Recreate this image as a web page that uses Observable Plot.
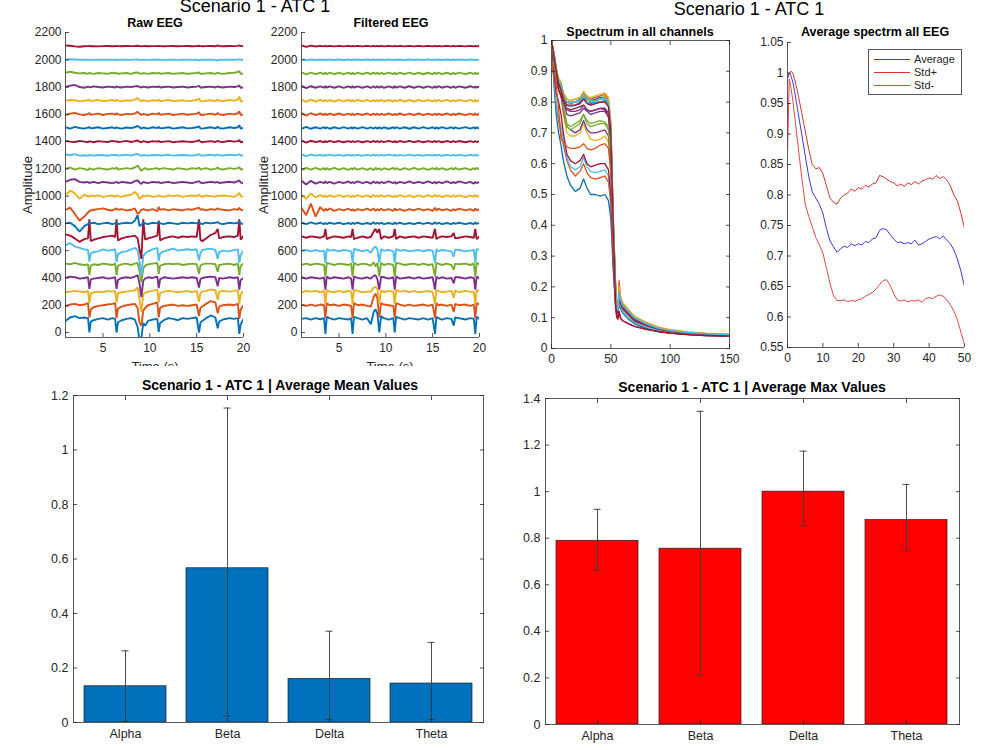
<!DOCTYPE html>
<html><head><meta charset="utf-8">
<script src="https://cdn.jsdelivr.net/npm/d3@7"></script>
<script src="https://cdn.jsdelivr.net/npm/@observablehq/plot@0.6"></script>
<style>
body{margin:0;background:#fff;font-family:"Liberation Sans",Arial,Helvetica,sans-serif;}
#fig{position:relative;width:1000px;height:750px;overflow:hidden;background:#fff;}
.t{position:absolute;white-space:nowrap;color:#000;line-height:1;transform:translate(-50%,-50%);}
</style></head><body><div id="fig"></div>
<script>
// ---------------- DATA ----------------
const channelColors = ["#0072BD","#D95319","#EDB120","#7E2F8E","#77AC30","#4DBEEE","#A2142F"];
const eegOffsets = [100,200,300,400,500,600,700,800,900,1000,1100,1200,1300,1400,1500,1600,1700,1800,1900,2000,2100];
const eegTime = [1.0,1.5,2.0,2.5,3.0,3.4,3.55,3.7,4.0,4.5, 5.0,5.5,6.0,6.3,6.45,6.6,7.0,7.5,8.0,8.4, 8.7,8.9,9.1,9.3,9.5,9.8,10.3,10.8,10.95,11.1, 11.5,12.0,12.5,13.0,13.5,14.0,14.5,15.0,15.25,15.4, 15.6,16.0,16.5,17.0,17.25,17.4,17.8,18.5,19.0,19.4, 19.55,19.7,20.0];
const eegXTicks = [5,10,15,20];
const eegYTicks = [0,200,400,600,800,1000,1200,1400,1600,1800,2000,2200];
const eegXDomain = [1,20];
const eegYDomain = [-36.7,2200];

// raw EEG: deviation of each channel from its offset (channel 100 first)
const rawEEG = [
 [-15,10,20,5,10,5,-100,-20,-10,0, 5,-5,5,0,-100,-25,-10,0,5,-5, -60,-160,-140,-30,-50,-15,-5,0,-95,-30, -10,5,0,-10,5,0,5,10,-100,-30, -15,5,25,10,-70,-20,-5,5,0,5, -110,-40,0],
 [-10,5,10,0,5,15,-90,-30,-15,-5, 0,5,10,15,-95,-25,-10,0,5,10, -20,-130,-150,-40,-20,0,10,20,-90,-20, -5,0,5,-5,0,-5,0,5,-80,-20, -10,10,30,20,-60,-10,0,5,0,10, -100,-30,0],
 [-5,0,5,0,-5,5,-85,-15,-5,0, -5,5,0,5,-80,-10,-5,0,5,10, 30,-60,-150,-20,-10,0,5,15,-80,-10, 0,5,0,-5,0,5,-5,5,-75,-10, 0,5,15,10,-60,0,5,0,5,10, -90,-20,5],
 [0,10,5,-5,0,5,-80,-10,-5,0, 5,-5,0,5,-80,-15,0,5,0,10, 20,-40,-140,-20,-5,5,0,10,-75,-10, 5,0,-5,0,5,0,5,0,-70,-10, 0,5,10,5,-60,0,-5,5,0,5, -85,-15,0],
 [5,0,10,0,-5,0,-80,-10,0,-5, 5,0,-5,5,-80,-10,0,5,-5,5, 10,-50,-130,-30,-10,0,5,10,-70,-10, 0,5,0,5,-5,0,5,0,-70,-10, 0,5,5,0,-55,-5,0,5,-5,5, -80,-10,5],
 [40,55,30,20,10,5,-80,-20,-10,-5, 10,0,5,10,-85,-25,-10,-5,10,20, 5,-80,-180,-40,-20,-5,10,20,-75,-20, -5,5,15,0,5,10,5,10,-70,-20, 5,10,15,5,-60,-10,0,-5,5,10, -90,-30,0],
 [20,10,-10,-35,-15,-10,130,-30,-20,-10, 0,5,10,0,130,-25,-10,0,5,10, -10,-90,-160,130,-20,-10,0,10,120,-25, -10,0,5,-5,5,0,5,0,130,-20, -30,-10,15,30,60,-10,0,5,0,10, 130,-20,10],
 [0,5,-20,-60,-20,-5,5,0,5,-5, 0,5,-5,0,5,-5,0,5,0,20, 60,-20,-10,5,0,-5,5,0,10,0, -5,5,0,-5,5,0,5,0,10,0, -5,5,0,5,10,0,-5,5,0,5, 15,0,-5],
 [0,15,-30,-80,-50,-20,-10,-5,0,5, 10,0,-5,5,10,0,5,-5,0,10, -30,-20,0,5,0,-5,5,-10,20,0, 5,-5,5,0,-5,5,0,10,15,0, 5,-5,5,0,10,5,0,-5,5,0, 15,0,-5],
 [10,40,20,-20,10,0,-5,5,0,5, -5,0,5,-5,5,0,-5,5,10,30, 10,-20,-10,5,0,5,-5,0,5,0, -5,5,0,5,-5,0,5,0,10,0, -5,5,0,-5,5,0,5,0,-5,10, 25,0,-5],
 [5,20,25,5,0,5,-5,0,5,-5, 5,0,-5,0,5,-5,5,0,-5,10, 15,0,-10,5,0,-5,5,0,5,-5, 0,5,-5,0,5,0,-5,5,10,0, -5,0,5,0,5,-5,0,5,0,10, 15,0,-5],
 [0,10,-5,5,0,-10,5,0,-5,5, 0,-5,5,0,10,-5,0,5,0,10, 25,5,-15,0,5,-5,0,5,-5,0, 5,0,-5,5,0,-5,5,0,10,-5, 0,5,-5,0,10,0,-5,5,0,5, 15,-5,0],
 [5,0,8,-3,0,-5,3,0,-3,2, 0,-4,3,0,5,-3,0,3,-2,5, 10,0,-5,3,0,-3,2,0,3,-2, 0,3,-3,0,2,0,-3,2,8,0, -3,0,3,-2,5,0,-2,3,0,2, 8,-3,0],
 [5,0,-3,5,0,-5,3,0,-5,3, 0,-3,5,0,3,-3,0,5,-3,3, 8,0,-5,3,0,-5,3,0,5,-3, 0,3,-5,0,3,0,-3,3,10,0, -5,0,3,-3,5,0,-3,5,0,3, 12,-5,0],
 [5,-5,8,0,-5,3,5,-3,0,5, -5,0,5,-3,5,0,-5,3,0,5, 15,5,-5,3,0,-5,5,0,8,-3, 0,5,-5,0,5,-3,0,5,12,-3, -5,0,5,-3,8,0,-5,5,0,5, 20,-5,0],
 [-5,5,10,0,-5,3,8,-3,0,5, -5,3,5,-3,8,0,-5,3,0,5, 18,5,-5,3,0,-5,5,0,10,-3, 0,5,-5,0,5,-3,0,5,15,-3, -5,0,5,-3,10,0,-5,5,0,8, 22,-5,0],
 [0,5,3,-5,0,3,8,-3,0,5, -3,0,5,-3,8,0,-5,3,0,8, 18,5,-5,3,0,-5,3,0,8,-3, 0,5,-3,0,3,-3,0,5,15,-3, -5,0,3,-3,8,0,-3,5,0,8, 30,-5,-5],
 [0,10,15,0,-5,3,0,-3,5,0, -3,3,0,-3,5,0,-3,3,0,5, 8,0,-3,3,0,-3,3,0,5,-3, 0,3,-3,0,3,-3,0,3,8,-3, -3,0,3,-3,5,0,-3,3,0,5, 12,-5,-3],
 [5,12,5,0,3,-3,5,0,-3,3, 0,-3,5,0,3,-3,0,3,-3,5, 8,0,-3,3,0,-3,3,0,5,-3, 0,3,-3,0,3,-3,0,3,8,-3, -3,0,3,-3,5,0,-3,3,5,10, 18,-5,0],
 [0,4,2,0,1,-1,0,1,-1,0, 1,0,-1,1,0,-1,1,0,-1,1, 2,0,-1,1,0,-1,1,0,2,0, -1,1,0,-1,1,0,-1,0,-5,0, -1,0,1,-1,-5,0,-1,1,0,1, 3,0,0],
 [5,3,-2,-4,-1,0,1,-1,0,-2, 0,1,-1,0,2,0,-1,1,0,1, 3,0,-1,0,1,-1,0,1,2,0, -1,0,1,-1,0,1,-1,0,3,0, -1,0,1,-1,5,0,-1,1,0,2, 5,0,1]
];

// filtered EEG: deviation of each channel from its offset (channel 100 first)
const filteredEEG = [
 [0,5,-5,5,-3,5,-110,15,5,-5, 5,0,-5,5,-110,15,5,-5,5,-40, 50,70,40,-100,20,5,-5,5,-100,15, 5,-5,5,0,-5,5,-5,5,-110,15, 5,-5,5,0,-50,10,5,-5,5,0, -110,15,0],
 [5,-5,5,-5,5,0,-95,15,0,5, -5,5,0,-5,-95,15,0,5,-5,-10, 60,85,50,-90,15,5,0,-5,-95,15, 5,-5,5,-5,0,5,-5,5,-95,15, 0,5,-5,5,-50,10,0,5,-5,5, -95,15,5],
 [-5,5,0,5,-5,5,-90,12,0,-5, 5,-5,5,0,-90,12,5,-5,0,0, 30,35,20,-90,10,-5,5,0,-90,12, 0,5,-5,5,-5,0,5,-5,-90,12, 5,-5,0,5,-45,8,-5,5,0,-5, -90,12,0],
 [5,-5,5,0,-5,5,-85,10,-5,5, 0,-5,5,-5,-85,10,0,-5,5,-5, 15,20,-10,-85,10,5,-5,5,-85,10, -5,0,5,-5,5,-5,0,5,-85,10, -5,5,-5,0,-40,5,5,-5,5,0, -85,10,-5],
 [-5,5,-5,5,0,-5,-90,10,5,-5, 5,0,-5,5,-90,10,-5,5,0,-10, 15,-15,10,-90,10,-5,5,-5,-90,10, 5,-5,0,5,-5,5,-5,0,-90,10, 5,-5,5,-5,-40,5,0,5,-5,5, -90,10,0],
 [0,5,-5,5,-5,0,-90,12,0,5, -5,5,0,-5,-90,12,5,-5,5,-15, 20,30,10,-90,12,0,5,-5,-90,12, 0,5,-5,0,5,-5,5,0,-90,12, -5,5,0,-5,-45,8,5,-5,0,5, -90,12,5],
 [5,-5,5,0,-5,5,60,-15,-5,5, 0,-5,5,0,60,-15,-5,5,-5,0, 40,60,30,60,-15,5,-5,5,60,-15, 5,-5,0,5,-5,5,0,-5,60,-15, -5,5,0,5,30,-10,-5,5,0,-5, 60,-15,5],
 [5,-5,8,-3,5,-5,3,-5,5,-3, 5,-5,3,-5,5,-3,5,-5,3,-5, 8,-5,5,-3,5,-5,3,-5,8,-3, 5,-5,3,-5,5,-3,5,-5,8,-3, 5,-5,3,-5,5,-3,5,-5,3,-5, 8,-3,5],
 [15,-40,45,-50,20,-10,8,-5,10,-8, 5,-5,8,-5,5,-8,5,-5,8,-5, 10,-8,5,-5,8,-5,5,-8,10,-5, 5,-8,5,-5,8,-5,5,-8,15,-5, 8,-5,5,-8,5,-5,8,-5,5,-8, 10,-5,5],
 [10,-20,20,-10,8,-5,5,-8,5,-5, 8,-5,5,-8,5,-5,8,-5,5,-8, 10,-5,5,-5,8,-5,5,-8,5,-5, 8,-5,5,-8,5,-5,8,-5,10,-5, 5,-8,5,-5,8,-5,5,-8,5,-5, 10,-5,5],
 [12,-15,12,-8,5,-5,8,-5,5,-8, 5,-5,8,-5,5,-5,8,-5,5,-8, 8,-5,5,-8,5,-5,8,-5,5,-8, 5,-5,8,-5,5,-5,8,-5,5,-8, 5,-5,8,-5,5,-5,8,-5,5,-8, 5,-5,5],
 [-8,8,-5,8,-5,5,-8,5,-5,8, -5,5,-8,5,-5,8,-5,5,-8,5, -10,8,-5,5,-8,5,-5,8,-5,5, -8,5,-5,8,-5,5,-8,5,-5,8, -5,5,-8,5,-5,8,-5,5,-8,5, -5,8,-5],
 [6,-6,5,-3,3,-4,3,-3,4,-3, 3,-4,3,-3,4,-3,3,-4,3,-3, 4,-3,3,-4,3,-3,4,-3,3,-4, 3,-3,4,-3,3,-4,3,-3,4,-3, 3,-4,3,-3,4,-3,3,-4,3,-3, 4,-3,3],
 [8,-8,6,-4,4,-5,4,-4,5,-4, 4,-5,4,-4,5,-4,4,-5,4,-4, 5,-4,4,-5,4,-4,5,-4,4,-5, 4,-4,5,-4,4,-5,4,-4,5,-4, 4,-5,4,-4,5,-4,4,-5,4,-4, 5,-4,4],
 [-6,8,-6,5,-5,6,-5,5,-6,5, -5,6,-5,5,-6,5,-5,6,-5,5, -6,5,-5,6,-5,5,-6,5,-5,6, -5,5,-6,5,-5,6,-5,5,-6,5, -5,6,-5,5,-6,5,-5,6,-5,5, -6,5,-5],
 [10,-10,8,-6,6,-5,6,-6,5,-5, 6,-6,5,-5,6,-6,5,-5,6,-6, 5,-5,6,-6,5,-5,6,-6,5,-5, 6,-6,5,-5,6,-6,5,-5,6,-6, 5,-5,6,-6,5,-5,6,-6,5,-5, 6,-6,5],
 [8,-8,7,-6,6,-5,6,-6,5,-6, 6,-5,6,-6,5,-6,6,-5,6,-6, 5,-6,6,-5,6,-6,5,-6,6,-5, 6,-6,5,-6,6,-5,6,-6,5,-6, 6,-5,6,-6,5,-6,6,-5,6,-6, 5,-6,6],
 [8,-8,6,-5,5,-5,6,-5,5,-5, 5,-6,5,-5,6,-5,5,-5,5,-6, 6,-5,5,-5,5,-6,5,-5,6,-5, 5,-5,6,-5,5,-5,5,-6,5,-5, 6,-5,5,-5,5,-6,5,-5,6,-5, 5,-5,5],
 [8,-7,6,-5,5,-6,5,-5,6,-5, 5,-5,6,-5,5,-6,5,-5,6,-5, 6,-5,5,-6,5,-5,6,-5,5,-6, 5,-5,6,-5,5,-6,5,-5,6,-5, 6,-5,5,-6,5,-5,6,-5,5,-6, 6,-5,5],
 [3,-3,2,-2,2,-2,2,-2,2,-2, 2,-2,2,-2,2,-2,2,-2,2,-2, 2,-2,2,-2,2,-2,2,-2,2,-2, 2,-2,2,-2,2,-2,2,-2,2,-2, 2,-2,2,-2,2,-2,2,-2,2,-2, 2,-2,2],
 [5,-6,4,-3,2,-2,2,-2,2,-2, 2,-2,2,-2,2,-2,2,-2,2,-2, 2,-2,2,-2,2,-2,2,-2,2,-2, 2,-2,2,-2,2,-2,2,-2,2,-2, 2,-2,2,-2,2,-2,2,-2,2,-2, 2,-2,2]
];

// spectrum of all channels (normalised), channel 1 first
const specFreq = [0,2,4,6,8,10,13,16,20,24,27,30,33,37,41,45,48,50,52,54,55,56,57,58,60,65,70,80,90,100,115,130,150];
const specXTicks = [0,50,100,150];
const specYTicks = [0,0.1,0.2,0.3,0.4,0.5,0.6,0.7,0.8,0.9,1];
const spectra = [
 [1,0.86,0.76,0.70,0.66,0.61,0.56,0.53,0.51,0.52,0.55,0.52,0.50,0.50,0.495,0.50,0.48,0.42,0.26,0.14,0.11,0.105,0.15,0.13,0.115,0.095,0.08,0.065,0.055,0.05,0.045,0.042,0.04],
 [1,0.88,0.79,0.74,0.70,0.66,0.61,0.58,0.56,0.575,0.60,0.57,0.555,0.55,0.555,0.56,0.54,0.47,0.28,0.15,0.12,0.11,0.16,0.14,0.12,0.10,0.085,0.07,0.06,0.053,0.048,0.044,0.042],
 [1,0.93,0.86,0.84,0.82,0.76,0.70,0.69,0.69,0.70,0.73,0.70,0.68,0.675,0.68,0.69,0.67,0.58,0.33,0.17,0.12,0.115,0.17,0.15,0.13,0.11,0.09,0.075,0.063,0.056,0.05,0.046,0.043],
 [1,0.94,0.87,0.84,0.82,0.77,0.72,0.71,0.70,0.71,0.74,0.71,0.70,0.70,0.705,0.71,0.69,0.60,0.34,0.17,0.12,0.115,0.17,0.15,0.13,0.11,0.09,0.074,0.062,0.055,0.05,0.046,0.043],
 [1,0.94,0.88,0.85,0.83,0.78,0.72,0.71,0.72,0.73,0.76,0.73,0.72,0.725,0.73,0.73,0.71,0.62,0.35,0.18,0.12,0.115,0.17,0.15,0.13,0.11,0.09,0.075,0.063,0.056,0.05,0.046,0.043],
 [1,0.89,0.80,0.75,0.72,0.68,0.62,0.59,0.58,0.59,0.62,0.59,0.575,0.57,0.575,0.58,0.56,0.49,0.29,0.15,0.115,0.11,0.16,0.14,0.12,0.10,0.085,0.07,0.06,0.053,0.048,0.044,0.041],
 [1,0.90,0.83,0.80,0.76,0.70,0.63,0.61,0.60,0.61,0.63,0.60,0.59,0.595,0.60,0.60,0.58,0.50,0.28,0.13,0.10,0.095,0.12,0.10,0.09,0.08,0.072,0.062,0.055,0.05,0.045,0.042,0.04],
 [1,0.95,0.90,0.86,0.85,0.81,0.79,0.785,0.79,0.80,0.82,0.80,0.795,0.80,0.80,0.805,0.79,0.70,0.40,0.19,0.125,0.12,0.18,0.155,0.135,0.115,0.095,0.078,0.065,0.058,0.051,0.047,0.044],
 [0.89,0.93,0.85,0.78,0.68,0.67,0.655,0.65,0.65,0.655,0.665,0.65,0.645,0.65,0.66,0.665,0.65,0.57,0.32,0.16,0.12,0.115,0.17,0.145,0.13,0.11,0.09,0.074,0.062,0.055,0.05,0.046,0.043],
 [1,0.95,0.90,0.87,0.86,0.82,0.80,0.795,0.80,0.805,0.83,0.81,0.80,0.805,0.81,0.82,0.80,0.72,0.42,0.20,0.13,0.125,0.19,0.16,0.14,0.12,0.10,0.08,0.067,0.059,0.052,0.048,0.045],
 [1,0.95,0.89,0.86,0.85,0.80,0.76,0.755,0.76,0.765,0.78,0.77,0.76,0.765,0.77,0.77,0.75,0.67,0.38,0.18,0.12,0.12,0.18,0.15,0.135,0.115,0.095,0.077,0.064,0.057,0.05,0.046,0.043],
 [1,0.94,0.88,0.85,0.84,0.79,0.73,0.72,0.73,0.74,0.76,0.74,0.73,0.735,0.74,0.735,0.72,0.63,0.36,0.18,0.12,0.115,0.17,0.15,0.13,0.11,0.09,0.075,0.063,0.056,0.05,0.046,0.043],
 [1,0.95,0.90,0.87,0.86,0.81,0.79,0.785,0.79,0.795,0.81,0.80,0.79,0.795,0.80,0.80,0.785,0.70,0.40,0.19,0.125,0.12,0.18,0.155,0.135,0.115,0.095,0.078,0.065,0.058,0.051,0.047,0.044],
 [1,0.95,0.90,0.84,0.82,0.80,0.78,0.775,0.78,0.785,0.79,0.775,0.77,0.775,0.78,0.775,0.76,0.68,0.38,0.18,0.12,0.115,0.17,0.15,0.13,0.11,0.09,0.075,0.063,0.056,0.05,0.046,0.043],
 [1,0.96,0.91,0.87,0.86,0.82,0.80,0.80,0.80,0.81,0.825,0.81,0.805,0.81,0.815,0.815,0.80,0.72,0.42,0.20,0.13,0.125,0.19,0.16,0.14,0.12,0.10,0.08,0.067,0.059,0.052,0.048,0.045],
 [1,0.96,0.91,0.87,0.86,0.83,0.81,0.805,0.81,0.815,0.83,0.815,0.81,0.815,0.82,0.825,0.81,0.73,0.43,0.21,0.135,0.13,0.22,0.17,0.145,0.125,0.10,0.082,0.068,0.06,0.053,0.049,0.046],
 [1,0.96,0.91,0.88,0.865,0.83,0.81,0.805,0.81,0.815,0.835,0.82,0.815,0.82,0.825,0.83,0.815,0.74,0.44,0.21,0.135,0.13,0.20,0.17,0.15,0.125,0.105,0.085,0.07,0.061,0.054,0.05,0.047],
 [1,0.95,0.90,0.86,0.85,0.80,0.775,0.77,0.77,0.775,0.79,0.775,0.77,0.775,0.78,0.78,0.765,0.68,0.39,0.19,0.125,0.12,0.18,0.15,0.135,0.115,0.095,0.077,0.064,0.057,0.05,0.046,0.043],
 [1,0.96,0.91,0.87,0.86,0.82,0.80,0.795,0.80,0.805,0.82,0.81,0.80,0.805,0.81,0.81,0.795,0.71,0.41,0.20,0.13,0.125,0.185,0.16,0.14,0.12,0.10,0.08,0.066,0.058,0.052,0.048,0.045],
 [1,0.95,0.90,0.87,0.855,0.815,0.80,0.80,0.80,0.805,0.825,0.81,0.805,0.80,0.81,0.815,0.80,0.72,0.41,0.20,0.13,0.125,0.18,0.16,0.14,0.12,0.10,0.08,0.066,0.058,0.052,0.048,0.045],
 [1,0.95,0.90,0.86,0.84,0.81,0.79,0.79,0.79,0.795,0.81,0.795,0.79,0.795,0.80,0.80,0.785,0.70,0.40,0.15,0.105,0.10,0.12,0.10,0.09,0.08,0.072,0.062,0.055,0.05,0.045,0.042,0.04]
];

// average spectrum with std bounds
const avgFreq = [0,0.5,1,1.5,2,3,4,5,6,7,8,9,10,11,12,13,14,15,16,17,18,19,20,21,22,23,24,25,26,27,28,29,30,31,32,33,34,35,36,37,38,39,40,41,42,43,44,45,46,47,48,49,50];
const avgSpec = [0.99,1.0,0.995,0.985,0.97,0.935,0.90,0.865,0.83,0.805,0.795,0.785,0.77,0.745,0.725,0.715,0.706,0.712,0.716,0.714,0.72,0.717,0.72,0.718,0.724,0.722,0.728,0.73,0.742,0.745,0.743,0.735,0.728,0.722,0.723,0.72,0.722,0.72,0.726,0.718,0.72,0.724,0.728,0.73,0.732,0.728,0.733,0.726,0.72,0.71,0.695,0.675,0.65];
const stdPlus = [0.995,1.0,1.003,1.0,0.99,0.965,0.935,0.905,0.875,0.85,0.843,0.845,0.835,0.815,0.795,0.788,0.785,0.795,0.80,0.803,0.81,0.806,0.812,0.81,0.816,0.813,0.818,0.82,0.832,0.83,0.826,0.822,0.82,0.815,0.818,0.814,0.82,0.817,0.822,0.818,0.823,0.825,0.828,0.826,0.832,0.827,0.83,0.825,0.815,0.80,0.79,0.77,0.745];
const stdMinus = [0.865,0.99,0.975,0.955,0.93,0.88,0.83,0.785,0.765,0.748,0.73,0.718,0.705,0.68,0.655,0.635,0.627,0.627,0.628,0.625,0.627,0.626,0.628,0.63,0.634,0.637,0.64,0.646,0.653,0.66,0.661,0.652,0.638,0.628,0.626,0.628,0.625,0.627,0.626,0.628,0.624,0.63,0.632,0.63,0.634,0.636,0.634,0.628,0.62,0.61,0.595,0.575,0.555];
const avgXTicks = [0,10,20,30,40,50];
const avgYTicks = [0.55,0.6,0.65,0.7,0.75,0.8,0.85,0.9,0.95,1,1.05];
const legendNames = ["Average","Std+","Std-"];
const legendColors = ["#3a3ad8","#d83232","#e04848"];

// band bars
const bandNames = ["Alpha","Beta","Delta","Theta"];
const meanValues = [0.133,0.566,0.160,0.143];
const meanLow = [0.004,0.023,0.011,0.011];
const meanHigh = [0.263,1.154,0.335,0.294];
const maxValues = [0.789,0.755,1.0,0.878];
const maxLow = [0.664,0.213,0.852,0.745];
const maxHigh = [0.924,1.345,1.174,1.031];
const meanYTicks = [0,0.2,0.4,0.6,0.8,1,1.2];
const maxYTicks = [0,0.2,0.4,0.6,0.8,1,1.2,1.4];

// ---------------- DRAWING ----------------
const fig = document.getElementById("fig");
const FONT = '"Liberation Sans", Arial, Helvetica, sans-serif';
const baseStyle = {fontFamily: FONT, fontSize: "12px", color: "#262626", background: "transparent"};
const fmt = d => String(d);
const AX = "#5a5a5a";

function put(svg, left, top) {
  svg.style.position = "absolute";
  svg.style.left = left + "px";
  svg.style.top = top + "px";
  svg.style.maxWidth = "none";
  fig.appendChild(svg);
}
function label(text, x, y, css) {
  const d = document.createElement("div");
  d.className = "t";
  d.textContent = text;
  d.style.left = x + "px";
  d.style.top = y + "px";
  d.style.cssText += css || "";
  fig.appendChild(d);
  return d;
}

function eegPanel(devs, left, width, mL, mR) {
  const rows = [];
  devs.forEach((dev, i) => dev.forEach((d, j) => rows.push({t: eegTime[j], v: eegOffsets[i] + d, ch: i})));
  const svg = Plot.plot({
    width, height: 356, marginLeft: mL, marginRight: mR, marginTop: 32, marginBottom: 19,
    style: baseStyle,
    x: {domain: eegXDomain, label: null, axis: null},
    y: {domain: eegYDomain, label: null, axis: null},
    color: {type: "identity"},
    marks: [
      Plot.line(rows, {x: "t", y: "v", z: "ch", stroke: d => channelColors[d.ch % 7], strokeWidth: 1.9, strokeLinejoin: "miter", clip: true}),
      Plot.ruleX([eegXDomain[0]], {stroke: AX}),
      Plot.ruleY([eegYDomain[0]], {stroke: AX}),
      Plot.axisY(eegYTicks, {anchor: "left", tickSize: -4, tickPadding: 8, tickFormat: fmt, strokeWidth: 0.8, label: null}),
      Plot.axisX(eegXTicks, {anchor: "bottom", tickSize: -4, tickPadding: 10, tickFormat: fmt, strokeWidth: 0.8, label: null})
    ]
  });
  put(svg, left, 0);
}
eegPanel(rawEEG, 0, 252, 65, 9);
eegPanel(filteredEEG, 250, 240, 51, 11);

// spectrum in all channels
{
  const rows = [];
  spectra.forEach((vals, i) => vals.forEach((v, j) => rows.push({f: specFreq[j], v, ch: i})));
  const svg = Plot.plot({
    width: 220, height: 368, marginLeft: 31, marginRight: 11, marginTop: 40, marginBottom: 20,
    style: baseStyle,
    x: {domain: [0, 150], label: null, axis: null},
    y: {domain: [0, 1], label: null, axis: null},
    color: {type: "identity"},
    marks: [
      Plot.line(rows, {x: "f", y: "v", z: "ch", stroke: d => channelColors[d.ch % 7], strokeWidth: 1.3, clip: true}),
      Plot.frame({stroke: AX}),
      Plot.axisY(specYTicks, {anchor: "left", tickSize: -4, tickPadding: 8, tickFormat: fmt, strokeWidth: 0.8, label: null}),
      Plot.axisY(specYTicks, {anchor: "right", tickSize: -4, tickFormat: () => "", strokeWidth: 0.8, label: null}),
      Plot.axisX(specXTicks, {anchor: "bottom", tickSize: -4, tickPadding: 10, tickFormat: fmt, strokeWidth: 0.8, label: null}),
      Plot.axisX(specXTicks, {anchor: "top", tickSize: -4, tickFormat: () => "", strokeWidth: 0.8, label: null})
    ]
  });
  put(svg, 520, 0);
}

// average spectrum
{
  const series = [avgSpec, stdPlus, stdMinus];
  const rows = [];
  series.forEach((vals, i) => vals.forEach((v, j) => rows.push({f: avgFreq[j], v, s: i})));
  const svg = Plot.plot({
    width: 230, height: 368, marginLeft: 42, marginRight: 11, marginTop: 42, marginBottom: 21,
    style: baseStyle,
    x: {domain: [0, 50], label: null, axis: null},
    y: {domain: [0.55, 1.05], label: null, axis: null},
    color: {type: "identity"},
    marks: [
      Plot.line(rows, {x: "f", y: "v", z: "s", stroke: d => legendColors[d.s], strokeWidth: 1, clip: true}),
      Plot.ruleX([0], {stroke: AX}),
      Plot.ruleY([0.55], {stroke: AX}),
      Plot.axisY(avgYTicks, {anchor: "left", tickSize: -4, tickPadding: 8, tickFormat: fmt, strokeWidth: 0.8, label: null}),
      Plot.axisX(avgXTicks, {anchor: "bottom", tickSize: -4, tickPadding: 10, tickFormat: fmt, strokeWidth: 0.8, label: null})
    ]
  });
  put(svg, 745, 0);
}

// legend
{
  const leg = document.createElement("div");
  leg.style.cssText = "position:absolute;left:868px;top:49px;width:92px;height:44px;border:1px solid #555;background:#fff;font-family:" + FONT.replace(/"/g, "'") + ";font-size:11px;color:#262626;";
  legendNames.forEach((name, i) => {
    const row = document.createElement("div");
    row.style.cssText = `position:absolute;left:4px;top:${3 + i * 13}px;height:13px;display:flex;align-items:center;`;
    row.innerHTML = `<svg width="38" height="13" style="display:block"><line x1="1" x2="37" y1="6.5" y2="6.5" stroke="${legendColors[i]}" stroke-width="1"/></svg><span style="margin-left:3px;line-height:13px">${name}</span>`;
    leg.appendChild(row);
  });
  fig.appendChild(leg);
}

// top texts
label("Scenario 1 - ATC 1", 255, 6, "font-size:18px;");
label("Scenario 1 - ATC 1", 749, 9, "font-size:18px;");
label("Raw EEG", 155, 23, "font-size:12.5px;font-weight:bold;");
label("Filtered EEG", 391, 23, "font-size:12.5px;font-weight:bold;");
label("Spectrum in all channels", 640, 32, "font-size:12.5px;font-weight:bold;");
label("Average spectrm all EEG", 875, 32, "font-size:12.5px;font-weight:bold;");
label("Amplitude", 27, 185, "font-size:13px;color:#262626;transform:translate(-50%,-50%) rotate(-90deg);");
label("Amplitude", 263, 185, "font-size:13px;color:#262626;transform:translate(-50%,-50%) rotate(-90deg);");
label("Time (s)", 155, 366, "font-size:13px;color:#262626;");
label("Time (s)", 390, 366, "font-size:13px;color:#262626;");

// white cover for the lower half (clips the x labels of the upper figure)
{
  const cover = document.createElement("div");
  cover.style.cssText = "position:absolute;left:0;top:366px;width:1000px;height:384px;background:#fff;";
  fig.appendChild(cover);
}

function barPanel(vals, lo, hi, fill, yDomain, yTicks, left, top, width, height, m, title, titleX, titleY) {
  const rows = bandNames.map((b, i) => ({band: b, v: vals[i], lo: lo[i], hi: hi[i]}));
  const svg = Plot.plot({
    width, height, marginLeft: m[0], marginRight: m[1], marginTop: m[2], marginBottom: m[3],
    style: {...baseStyle, fontSize: "12.5px"},
    x: {type: "band", domain: bandNames, paddingInner: 0.2, paddingOuter: 0.1, label: null, axis: null},
    y: {domain: yDomain, label: null, axis: null},
    marks: [
      Plot.barY(rows, {x: "band", y: "v", fill, stroke: "#1e1e1e", strokeWidth: 0.7}),
      Plot.ruleX(rows, {x: "band", y1: "lo", y2: "hi", stroke: "#3a3a3a", strokeWidth: 0.9}),
      Plot.tickY(rows, {x: "band", y: "hi", stroke: "#3a3a3a", strokeWidth: 0.9, insetLeft: 37.5, insetRight: 37.5}),
      Plot.tickY(rows, {x: "band", y: "lo", stroke: "#3a3a3a", strokeWidth: 0.9, insetLeft: 37.5, insetRight: 37.5}),
      Plot.frame({stroke: AX}),
      Plot.axisY(yTicks, {anchor: "left", tickSize: -4, tickPadding: 9, tickFormat: fmt, strokeWidth: 0.8, label: null}),
      Plot.axisY(yTicks, {anchor: "right", tickSize: -4, tickFormat: () => "", strokeWidth: 0.8, label: null}),
      Plot.axisX({anchor: "bottom", tickSize: -4, tickPadding: 11, strokeWidth: 0.8, label: null}),
      Plot.axisX({anchor: "top", tickSize: -4, tickFormat: () => "", strokeWidth: 0.8, label: null})
    ]
  });
  put(svg, left, top);
  label(title, titleX, titleY, "font-size:14px;font-weight:bold;");
}
barPanel(meanValues, meanLow, meanHigh, "#0072BD", [0, 1.2], meanYTicks, 30, 380, 470, 370, [43, 17, 15, 28],
  "Scenario 1 - ATC 1 | Average Mean Values", 280, 385);
barPanel(maxValues, maxLow, maxHigh, "#FF0000", [0, 1.4], maxYTicks, 505, 380, 480, 370, [40, 26, 18, 26],
  "Scenario 1 - ATC 1 | Average Max Values", 752, 387);
</script></body></html>
